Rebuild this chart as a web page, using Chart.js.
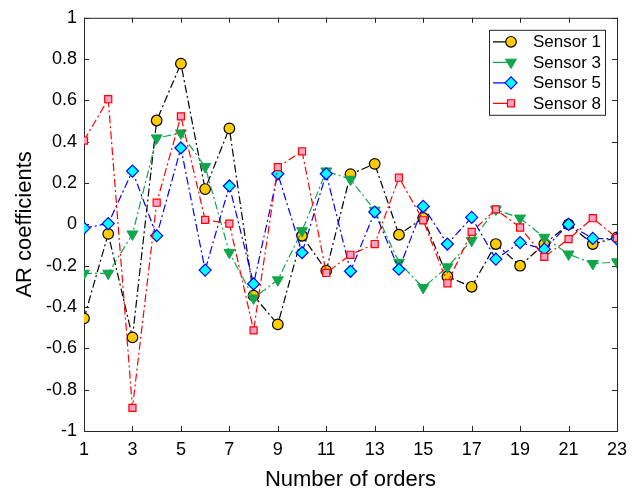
<!DOCTYPE html>
<html>
<head>
<meta charset="utf-8">
<script src="https://cdn.jsdelivr.net/npm/chart.js@4.4.1/dist/chart.umd.min.js"></script>
<style>
  body { margin: 0; background: #fff; }
</style>
</head>
<body>
<canvas id="ar-chart" width="636" height="493"></canvas>
<script>
const orders = [1, 2, 3, 4, 5, 6, 7, 8, 9, 10, 11, 12, 13, 14, 15, 16, 17, 18, 19, 20, 21, 22, 23];
const sensor1 = [-0.455, -0.046, -0.547, 0.503, 0.778, 0.171, 0.465, -0.345, -0.484, -0.055, -0.224, 0.243, 0.293, -0.05, 0.031, -0.252, -0.302, -0.095, -0.2, -0.095, 0.0, -0.095, -0.063];
const sensor3 = [-0.237, -0.237, -0.047, 0.418, 0.442, 0.279, -0.136, -0.357, -0.269, -0.031, 0.258, 0.218, 0.068, -0.184, -0.306, -0.206, -0.078, 0.073, 0.03, -0.063, -0.144, -0.19, -0.182];
const sensor5 = [-0.018, 0.004, 0.258, -0.055, 0.37, -0.221, 0.186, -0.288, 0.245, -0.137, 0.245, -0.227, 0.06, -0.217, 0.087, -0.095, 0.034, -0.168, -0.088, -0.12, 0.0, -0.068, -0.07];
const sensor8 = [0.406, 0.606, -0.888, 0.105, 0.523, 0.022, 0.004, -0.513, 0.277, 0.354, -0.235, -0.147, -0.095, 0.226, 0.02, -0.285, -0.036, 0.073, -0.015, -0.157, -0.071, 0.03, -0.066];
const xTicks = [1, 3, 5, 7, 9, 11, 13, 15, 17, 19, 21, 23];
const yTicks = [-1, -0.8, -0.6, -0.4, -0.2, 0, 0.2, 0.4, 0.6, 0.8, 1];

const green = "#12a64c";
const dashDot = [8, 3, 2, 3];
const axisColor = "#262626";
const font = "'Liberation Sans', Arial, Helvetica, sans-serif";

const toPoints = arr => arr.map((v, i) => ({ x: orders[i], y: v }));

// datasets (lower order value is drawn on top, like MATLAB plots later series above)
const datasets = [
  {
    label: "Sensor 1", data: toPoints(sensor1), order: 4,
    borderColor: "#000", backgroundColor: "#ffcc00", pointBorderColor: "#000",
    pointStyle: "circle", pointRadius: 5.3, pointBorderWidth: 1.2,
  },
  {
    label: "Sensor 3", data: toPoints(sensor3), order: 3,
    borderColor: green, backgroundColor: green, pointBorderColor: green,
    pointStyle: "triangle", pointRotation: 180, pointRadius: 6.3, pointBorderWidth: 1,
  },
  {
    label: "Sensor 5", data: toPoints(sensor5), order: 2,
    borderColor: "#0000ff", backgroundColor: "#00ffff", pointBorderColor: "#0000ff",
    pointStyle: "rectRot", pointRadius: 6, pointBorderWidth: 1.2,
  },
  {
    label: "Sensor 8", data: toPoints(sensor8), order: 1,
    borderColor: "#ff0000", backgroundColor: "#f7a1c4", pointBorderColor: "#ff0000",
    pointStyle: "rect", pointRadius: 5, pointBorderWidth: 1.2,
  },
].map(d => Object.assign({
  borderWidth: 1.2,
  borderDash: dashDot,
  pointBackgroundColor: d.backgroundColor,
  tension: 0,
  fill: false,
}, d));

// box round the plot with inward ticks on all four sides
const framePlugin = {
  id: "frame",
  beforeDatasetsDraw(chart) {
    const { ctx, chartArea: a, scales } = chart;
    ctx.save();
    ctx.strokeStyle = axisColor;
    ctx.lineWidth = 1;
    ctx.setLineDash([]);
    ctx.strokeRect(a.left + 0.5, a.top + 0.5, a.right - a.left, a.bottom - a.top);
    ctx.beginPath();
    xTicks.forEach(t => {
      const x = Math.round(scales.x.getPixelForValue(t)) + 0.5;
      ctx.moveTo(x, a.bottom); ctx.lineTo(x, a.bottom - 5);
      ctx.moveTo(x, a.top); ctx.lineTo(x, a.top + 5);
    });
    yTicks.forEach(t => {
      const y = Math.round(scales.y.getPixelForValue(t)) + 0.5;
      ctx.moveTo(a.left, y); ctx.lineTo(a.left + 5, y);
      ctx.moveTo(a.right, y); ctx.lineTo(a.right - 5, y);
    });
    ctx.stroke();
    ctx.restore();
  },
};

// MATLAB style legend in the upper right corner
const legendPlugin = {
  id: "matlabLegend",
  afterDraw(chart) {
    const { ctx, chartArea: a } = chart;
    const sets = chart.data.datasets;
    const boxW = 116, rowH = 20.5;
    const boxH = sets.length * rowH + 3;
    const left = a.right - boxW - 12, top = a.top + 12;
    ctx.save();
    ctx.fillStyle = "#fff";
    ctx.fillRect(left, top, boxW, boxH);
    ctx.strokeStyle = axisColor;
    ctx.lineWidth = 1;
    ctx.strokeRect(left + 0.5, top + 0.5, boxW, boxH);
    sets.forEach((d, i) => {
      const y = top + 12 + i * rowH;
      ctx.strokeStyle = d.borderColor;
      ctx.lineWidth = d.borderWidth;
      ctx.setLineDash([14, 4, 2, 40]);
      ctx.beginPath();
      ctx.moveTo(left + 4, y);
      ctx.lineTo(left + 41, y);
      ctx.stroke();
      ctx.setLineDash([]);
      ctx.fillStyle = d.pointBackgroundColor;
      ctx.strokeStyle = d.pointBorderColor;
      ctx.lineWidth = d.pointBorderWidth;
      Chart.helpers.drawPoint(ctx, {
        pointStyle: d.pointStyle,
        radius: d.pointRadius,
        rotation: d.pointRotation || 0,
        borderWidth: d.pointBorderWidth,
      }, left + 22, y);
      ctx.fillStyle = "#000";
      ctx.font = "17px " + font;
      ctx.textBaseline = "middle";
      ctx.textAlign = "left";
      ctx.fillText(d.label, left + 44, y + 1);
    });
    ctx.restore();
  },
};

let chartOptions = {
  responsive: false,
  animation: false,
  layout: { padding: { top: 16, right: 19, left: 0, bottom: 0 } },
  plugins: {
    legend: { display: false },
    tooltip: { enabled: false },
  },
  scales: {
    x: {
      type: "linear",
      min: 1,
      max: 23,
      afterFit: s => { s.height = 62; },
      afterBuildTicks: s => { s.ticks = xTicks.map(v => ({ value: v })); },
      grid: { display: false, drawTicks: false },
      border: { display: false },
      ticks: { color: "#000", padding: 8, font: { family: font, size: 18 } },
      title: {
        display: true,
        text: "Number of orders",
        color: "#000",
        padding: { top: -1, bottom: 0 },
        font: { family: font, size: 22 },
      },
    },
    y: {
      type: "linear",
      min: -1,
      max: 1,
      afterFit: s => { s.width = 84; },
      afterBuildTicks: s => { s.ticks = yTicks.map(v => ({ value: v })); },
      grid: { display: false, drawTicks: false },
      border: { display: false },
      ticks: {
        color: "#000",
        padding: 7,
        font: { family: font, size: 18 },
        callback: v => String(+v.toFixed(1)),
      },
      title: {
        display: true,
        text: "AR coefficients",
        color: "#000",
        padding: { top: 12, bottom: 0 },
        font: { family: font, size: 22 },
      },
    },
  },
};

const ctx = document.getElementById("ar-chart").getContext("2d");
const arChart = new Chart(ctx, {
  type: "line",
  data: { datasets: datasets },
  options: chartOptions,
  plugins: [framePlugin, legendPlugin],
});
</script>
</body>
</html>
